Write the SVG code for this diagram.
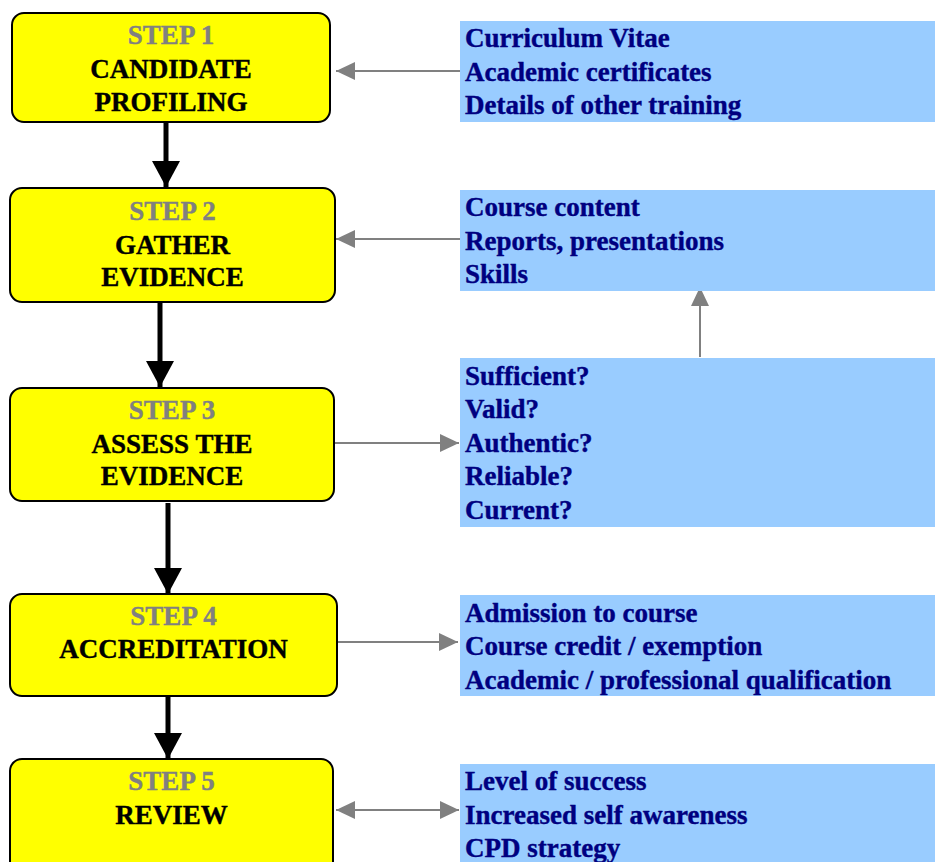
<svg xmlns="http://www.w3.org/2000/svg" width="935" height="862" viewBox="0 0 935 862">
<style>
.step{fill:#FFFF00;stroke:#000;stroke-width:2}
.info{fill:#99CCFF}
text{font-family:"Liberation Serif","Times New Roman",serif;font-weight:bold;font-size:27px;stroke-width:0.4}
.st{fill:#808080;stroke:#808080;text-anchor:middle}
.tt{fill:#000;stroke:#000;text-anchor:middle}
.it{fill:#000080;stroke:#000080}
.flow{stroke:#000;stroke-width:5;fill:none}
.side{stroke:#808080;stroke-width:2;fill:none}
</style>
<defs>
<marker id="bh" markerUnits="userSpaceOnUse" markerWidth="30" markerHeight="28" refX="26" refY="14" orient="auto">
<path d="M0,0 L26,14 L0,28 Z" fill="#000"/>
</marker>
<marker id="gh" markerUnits="userSpaceOnUse" markerWidth="20" markerHeight="20" refX="19" refY="10" orient="auto-start-reverse">
<path d="M0,1 L19,10 L0,19 Z" fill="#808080"/>
</marker>
</defs>
<rect width="935" height="862" fill="#fff"/>
<g id="connectors">
<line class="flow" x1="166" y1="123" x2="166" y2="187" marker-end="url(#bh)"/>
<line class="flow" x1="160" y1="302" x2="160" y2="387" marker-end="url(#bh)"/>
<line class="flow" x1="168" y1="503" x2="168" y2="594" marker-end="url(#bh)"/>
<line class="flow" x1="168" y1="697" x2="168" y2="759" marker-end="url(#bh)"/>
<line class="side" x1="460" y1="71" x2="336" y2="71" marker-end="url(#gh)"/>
<line class="side" x1="460" y1="239" x2="336" y2="239" marker-end="url(#gh)"/>
<line class="side" x1="334" y1="443" x2="459" y2="443" marker-end="url(#gh)"/>
<line class="side" x1="700" y1="357" x2="700" y2="287" marker-end="url(#gh)"/>
<line class="side" x1="337" y1="642" x2="458" y2="642" marker-end="url(#gh)"/>
<line class="side" x1="336" y1="810" x2="459" y2="810" marker-start="url(#gh)" marker-end="url(#gh)"/>
</g>
<g id="step1">
<rect class="step" x="12" y="13" width="318" height="109" rx="12"/>
<text class="st" x="171" y="43.5">STEP 1</text>
<text class="tt" x="171" y="77.5">CANDIDATE</text>
<text class="tt" x="171" y="110.5">PROFILING</text>
</g>
<g id="step2">
<rect class="step" x="10" y="188" width="325" height="114" rx="12"/>
<text class="st" x="172.5" y="219.5">STEP 2</text>
<text class="tt" x="172.5" y="253.5">GATHER</text>
<text class="tt" x="172.5" y="286">EVIDENCE</text>
</g>
<g id="step3">
<rect class="step" x="10" y="388" width="324" height="113" rx="12"/>
<text class="st" x="172" y="418.5">STEP 3</text>
<text class="tt" x="172" y="452.5">ASSESS THE</text>
<text class="tt" x="172" y="485">EVIDENCE</text>
</g>
<g id="step4">
<rect class="step" x="10" y="594" width="327" height="102" rx="12"/>
<text class="st" x="173.5" y="625">STEP 4</text>
<text class="tt" x="173.5" y="658">ACCREDITATION</text>
</g>
<g id="step5">
<rect class="step" x="10" y="759" width="323" height="120" rx="12"/>
<text class="st" x="171.5" y="790">STEP 5</text>
<text class="tt" x="171.5" y="823.5">REVIEW</text>
</g>
<g id="info1">
<rect class="info" x="460" y="21" width="475" height="101"/>
<text class="it" x="465" y="46.5">Curriculum Vitae</text>
<text class="it" x="465" y="80.5">Academic certificates</text>
<text class="it" x="465" y="113.5">Details of other training</text>
</g>
<g id="info2">
<rect class="info" x="460" y="190" width="475" height="101"/>
<text class="it" x="465" y="216">Course content</text>
<text class="it" x="465" y="249.5">Reports, presentations</text>
<text class="it" x="465" y="282.5">Skills</text>
</g>
<g id="info3">
<rect class="info" x="460" y="358" width="475" height="169"/>
<text class="it" x="465" y="384.5">Sufficient?</text>
<text class="it" x="465" y="418">Valid?</text>
<text class="it" x="465" y="451.5">Authentic?</text>
<text class="it" x="465" y="485">Reliable?</text>
<text class="it" x="465" y="519">Current?</text>
</g>
<g id="info4">
<rect class="info" x="460" y="595" width="475" height="101"/>
<text class="it" x="465" y="621.5">Admission to course</text>
<text class="it" x="465" y="655">Course credit / exemption</text>
<text class="it" x="465" y="688.5">Academic / professional qualification</text>
</g>
<g id="info5">
<rect class="info" x="460" y="764" width="475" height="98"/>
<text class="it" x="465" y="790">Level of success</text>
<text class="it" x="465" y="823.5">Increased self awareness</text>
<text class="it" x="465" y="857">CPD strategy</text>
</g>
</svg>
